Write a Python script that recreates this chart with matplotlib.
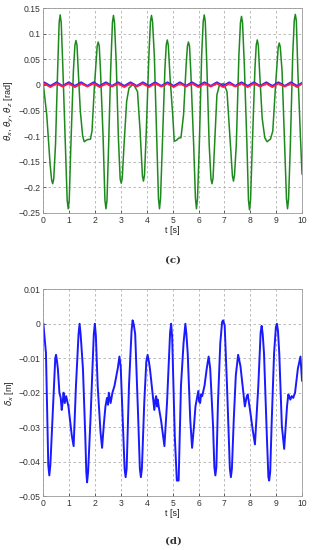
import matplotlib
matplotlib.use('Agg')
import matplotlib.pyplot as plt

# (c) rotation angles theta_x (blue), theta_y (red), theta_z (green)
t_green = [0.00, 0.13, 0.26, 0.32, 0.36, 0.40, 0.47, 0.55,
           0.61, 0.65, 0.69, 0.75, 0.84, 0.92, 0.96, 1.00,
           1.06, 1.16, 1.22, 1.26, 1.30, 1.35, 1.43, 1.52,
           1.58, 1.69, 1.82, 1.88, 1.97, 2.08, 2.12, 2.16,
           2.21, 2.31, 2.38, 2.42, 2.46, 2.52, 2.60, 2.67,
           2.71, 2.75, 2.82, 2.90, 2.97, 3.01, 3.05, 3.12,
           3.22, 3.31, 3.48, 3.64, 3.74, 3.83, 3.87, 3.91,
           3.97, 4.08, 4.14, 4.18, 4.22, 4.29, 4.39, 4.45,
           4.49, 4.53, 4.60, 4.70, 4.75, 4.79, 4.83, 4.90,
           5.00, 5.06, 5.15, 5.23, 5.32, 5.42, 5.52, 5.57,
           5.61, 5.65, 5.70, 5.81, 5.88, 5.92, 5.96, 6.03,
           6.12, 6.18, 6.22, 6.26, 6.32, 6.41, 6.48, 6.52,
           6.56, 6.62, 6.71, 6.81, 6.97, 7.10, 7.20, 7.31,
           7.35, 7.39, 7.46, 7.56, 7.62, 7.66, 7.70, 7.77,
           7.87, 7.93, 7.97, 8.01, 8.08, 8.18, 8.23, 8.27,
           8.31, 8.36, 8.46, 8.56, 8.65, 8.72, 8.78, 8.87,
           8.97, 9.08, 9.12, 9.16, 9.23, 9.32, 9.40, 9.44,
           9.48, 9.55, 9.64, 9.70, 9.74, 9.78, 9.84, 9.94, 10.00]
theta_z = [0.000, -0.058, -0.155, -0.186, -0.193, -0.184, -0.116, 0.026,
           0.122, 0.137, 0.122, 0.039, -0.103, -0.225, -0.242, -0.225,
           -0.123, 0.026, 0.078, 0.087, 0.078, 0.026, -0.052, -0.100,
           -0.111, -0.107, -0.106, -0.090, -0.006, 0.076, 0.084, 0.076,
           0.026, -0.103, -0.225, -0.242, -0.225, -0.123, 0.026, 0.122,
           0.136, 0.122, 0.039, -0.103, -0.184, -0.192, -0.182, -0.116,
           -0.032, -0.006, 0.002, -0.013, -0.090, -0.178, -0.188, -0.176,
           -0.103, 0.058, 0.124, 0.136, 0.124, 0.058, -0.116, -0.222,
           -0.242, -0.222, -0.116, 0.032, 0.078, 0.088, 0.078, 0.013,
           -0.058, -0.110, -0.108, -0.104, -0.103, -0.058, 0.039, 0.076,
           0.084, 0.076, 0.026, -0.116, -0.222, -0.242, -0.222, -0.116,
           0.058, 0.124, 0.137, 0.124, 0.039, -0.116, -0.184, -0.193,
           -0.182, -0.116, -0.019, 0.000, 0.003, -0.013, -0.090, -0.178,
           -0.188, -0.176, -0.116, 0.058, 0.122, 0.134, 0.122, 0.039,
           -0.116, -0.225, -0.244, -0.225, -0.116, 0.032, 0.078, 0.088,
           0.078, 0.026, -0.065, -0.103, -0.111, -0.108, -0.106, -0.090,
           -0.006, 0.074, 0.082, 0.074, 0.026, -0.103, -0.223, -0.242,
           -0.223, -0.116, 0.058, 0.126, 0.138, 0.126, 0.026, -0.103, -0.174]

t_small = [0.00, 0.03, 0.27, 0.51, 0.74, 0.98, 1.22, 1.46, 1.70, 1.94, 2.18,
           2.42, 2.65, 2.89, 3.13, 3.37, 3.61, 3.85, 4.08, 4.32, 4.56,
           4.80, 5.04, 5.28, 5.51, 5.75, 5.99, 6.23, 6.47, 6.71, 6.95,
           7.19, 7.42, 7.66, 7.90, 8.14, 8.38, 8.62, 8.85, 9.09, 9.33,
           9.57, 9.81, 10.00]
theta_x = [0.002, 0.005, -0.002, 0.005, -0.002, 0.005, -0.002, 0.005, -0.002, 0.005, -0.002,
           0.005, -0.002, 0.005, -0.002, 0.005, -0.002, 0.005, -0.002, 0.005, -0.002,
           0.005, -0.002, 0.005, -0.002, 0.005, -0.002, 0.005, -0.002, 0.005, -0.002,
           0.005, -0.002, 0.005, -0.002, 0.005, -0.002, 0.005, -0.002, 0.005, -0.002,
           0.005, -0.002, 0.004]
theta_y = [0.001, 0.003, -0.004, 0.003, -0.003, 0.003, -0.004, 0.003, -0.003, 0.003, -0.004,
           0.003, -0.003, 0.003, -0.004, 0.003, -0.003, 0.003, -0.004, 0.003, -0.003,
           0.003, -0.004, 0.003, -0.003, 0.003, -0.004, 0.003, -0.003, 0.003, -0.004,
           0.003, -0.003, 0.003, -0.004, 0.003, -0.003, 0.003, -0.004, 0.003, -0.003,
           0.003, -0.004, 0.003]

# (d) displacement delta_x
t_delta = [0.00, 0.10, 0.19, 0.23, 0.27, 0.36, 0.42, 0.46,
           0.49, 0.52, 0.56, 0.62, 0.67, 0.71, 0.75, 0.78,
           0.83, 0.88, 0.97, 1.10, 1.17, 1.26, 1.36, 1.40,
           1.44, 1.53, 1.62, 1.66, 1.69, 1.73, 1.82, 1.95,
           1.99, 2.03, 2.10, 2.21, 2.27, 2.34, 2.40, 2.46,
           2.50, 2.53, 2.60, 2.67, 2.75, 2.88, 2.94, 2.99,
           3.09, 3.14, 3.18, 3.22, 3.31, 3.41, 3.45, 3.49,
           3.55, 3.66, 3.73, 3.77, 3.81, 3.90, 3.98, 4.03,
           4.08, 4.12, 4.22, 4.29, 4.33, 4.36, 4.40, 4.42,
           4.48, 4.55, 4.68, 4.78, 4.90, 4.94, 4.98, 5.08,
           5.16, 5.23, 5.32, 5.42, 5.49, 5.53, 5.58, 5.68,
           5.75, 5.82, 5.88, 5.99, 6.02, 6.06, 6.10, 6.14,
           6.23, 6.32, 6.39, 6.45, 6.56, 6.61, 6.65, 6.69,
           6.75, 6.84, 6.91, 6.95, 7.01, 7.10, 7.21, 7.25,
           7.29, 7.36, 7.44, 7.53, 7.62, 7.73, 7.79, 7.85,
           7.90, 7.95, 7.99, 8.09, 8.18, 8.31, 8.40, 8.44,
           8.48, 8.53, 8.64, 8.70, 8.73, 8.77, 8.83, 8.92,
           8.99, 9.03, 9.07, 9.12, 9.22, 9.31, 9.42, 9.47,
           9.50, 9.55, 9.60, 9.66, 9.73, 9.84, 9.94, 10.00]
delta_x = [0.0000, -0.0085, -0.0410, -0.0440, -0.0410, -0.0260, -0.0160, -0.0100,
           -0.0090, -0.0105, -0.0130, -0.0200, -0.0215, -0.0250, -0.0225, -0.0200,
           -0.0230, -0.0210, -0.0240, -0.0325, -0.0355, -0.0180, -0.0030, 0.0000,
           -0.0030, -0.0130, -0.0325, -0.0430, -0.0460, -0.0430, -0.0280, -0.0030,
           0.0000, -0.0035, -0.0180, -0.0315, -0.0360, -0.0290, -0.0240, -0.0215,
           -0.0235, -0.0200, -0.0230, -0.0200, -0.0180, -0.0128, -0.0095, -0.0125,
           -0.0325, -0.0420, -0.0445, -0.0420, -0.0180, -0.0020, 0.0010, 0.0000,
           -0.0030, -0.0260, -0.0420, -0.0445, -0.0420, -0.0230, -0.0110, -0.0090,
           -0.0110, -0.0130, -0.0200, -0.0250, -0.0220, -0.0210, -0.0240, -0.0220,
           -0.0250, -0.0280, -0.0355, -0.0230, -0.0025, 0.0000, -0.0040, -0.0325,
           -0.0455, -0.0455, -0.0180, -0.0056, 0.0000, -0.0030, -0.0085, -0.0280,
           -0.0360, -0.0300, -0.0240, -0.0195, -0.0225, -0.0230, -0.0205, -0.0210,
           -0.0180, -0.0128, -0.0095, -0.0130, -0.0296, -0.0415, -0.0440, -0.0415,
           -0.0230, -0.0056, 0.0005, 0.0010, -0.0005, -0.0180, -0.0420, -0.0445,
           -0.0420, -0.0280, -0.0150, -0.0090, -0.0123, -0.0200, -0.0240, -0.0215,
           -0.0205, -0.0230, -0.0250, -0.0306, -0.0350, -0.0180, -0.0025, -0.0006,
           -0.0030, -0.0085, -0.0325, -0.0445, -0.0455, -0.0430, -0.0280, -0.0085,
           -0.0010, 0.0000, -0.0020, -0.0085, -0.0296, -0.0363, -0.0240, -0.0205,
           -0.0210, -0.0220, -0.0210, -0.0215, -0.0200, -0.0130, -0.0095, -0.0165]

x_ticks = [0, 1, 2, 3, 4, 5, 6, 7, 8, 9, 10]
y_ticks_c = [0.15, 0.1, 0.05, 0, -0.05, -0.1, -0.15, -0.2, -0.25]
y_labels_c = ['0.15', '0.1', '0.05', '0', '\u22120.05', '\u22120.1', '\u22120.15', '\u22120.2', '\u22120.25']
y_ticks_d = [0.01, 0, -0.01, -0.02, -0.03, -0.04, -0.05]
y_labels_d = ['0.01', '0', '\u22120.01', '\u22120.02', '\u22120.03', '\u22120.04', '\u22120.05']

plt.rcParams['font.family'] = ['Liberation Sans', 'DejaVu Sans']

fig = plt.figure(figsize=(3.12, 5.5), dpi=100)
ax1 = fig.add_axes([0.139, 0.613, 0.829, 0.372])
ax2 = fig.add_axes([0.139, 0.098, 0.829, 0.376])


def style_axes(ax, yticks, ylabels, ylim):
    ax.set_xlim(0, 10)
    ax.set_ylim(*ylim)
    ax.set_xticks(x_ticks)
    ax.set_xticklabels([str(v) for v in x_ticks])
    ax.set_yticks(yticks)
    ax.set_yticklabels(ylabels)
    ax.grid(True, linestyle=(0, (3, 3)), color='#b0b0b0', linewidth=0.6)
    ax.tick_params(direction='in', length=2.5, width=0.5, labelsize=6.2,
                   colors='#333333', pad=2)
    for s in ax.spines.values():
        s.set_color('#999999')
        s.set_linewidth(0.6)
    ax.set_axisbelow(True)
    ax.set_xlabel('t [s]', fontsize=6.5, labelpad=1, color='#222222')


ax1.plot(t_green, theta_z, color='#1e8a1e', linewidth=1.1, solid_joinstyle='round')
ax1.plot(t_small, theta_x, color='#2020ff', linewidth=1.5, solid_joinstyle='round')
ax1.plot(t_small, theta_y, color='#ff1a4a', linewidth=1.4, solid_joinstyle='round')
style_axes(ax1, y_ticks_c, y_labels_c, (-0.25, 0.15))
ax1.set_ylabel(r'$\theta_x$, $\theta_y$, $\theta_z$ [rad]', fontsize=6.5,
               labelpad=2, color='#222222')

ax2.plot(t_delta, delta_x, color='#1a1aff', linewidth=1.4, solid_joinstyle='round')
style_axes(ax2, y_ticks_d, y_labels_d, (-0.05, 0.01))
ax2.set_ylabel(r'$\delta_x$ [m]', fontsize=6.5, labelpad=2, color='#222222')

fig.text(0.555, 1 - 260 / 550, '(c)', ha='center', va='center',
         fontsize=7.5, family='DejaVu Serif', fontweight='bold', color='#333333')
fig.text(0.555, 1 - 541 / 550, '(d)', ha='center', va='center',
         fontsize=7.5, family='DejaVu Serif', fontweight='bold', color='#333333')

fig.savefig('out.png', dpi=100)
